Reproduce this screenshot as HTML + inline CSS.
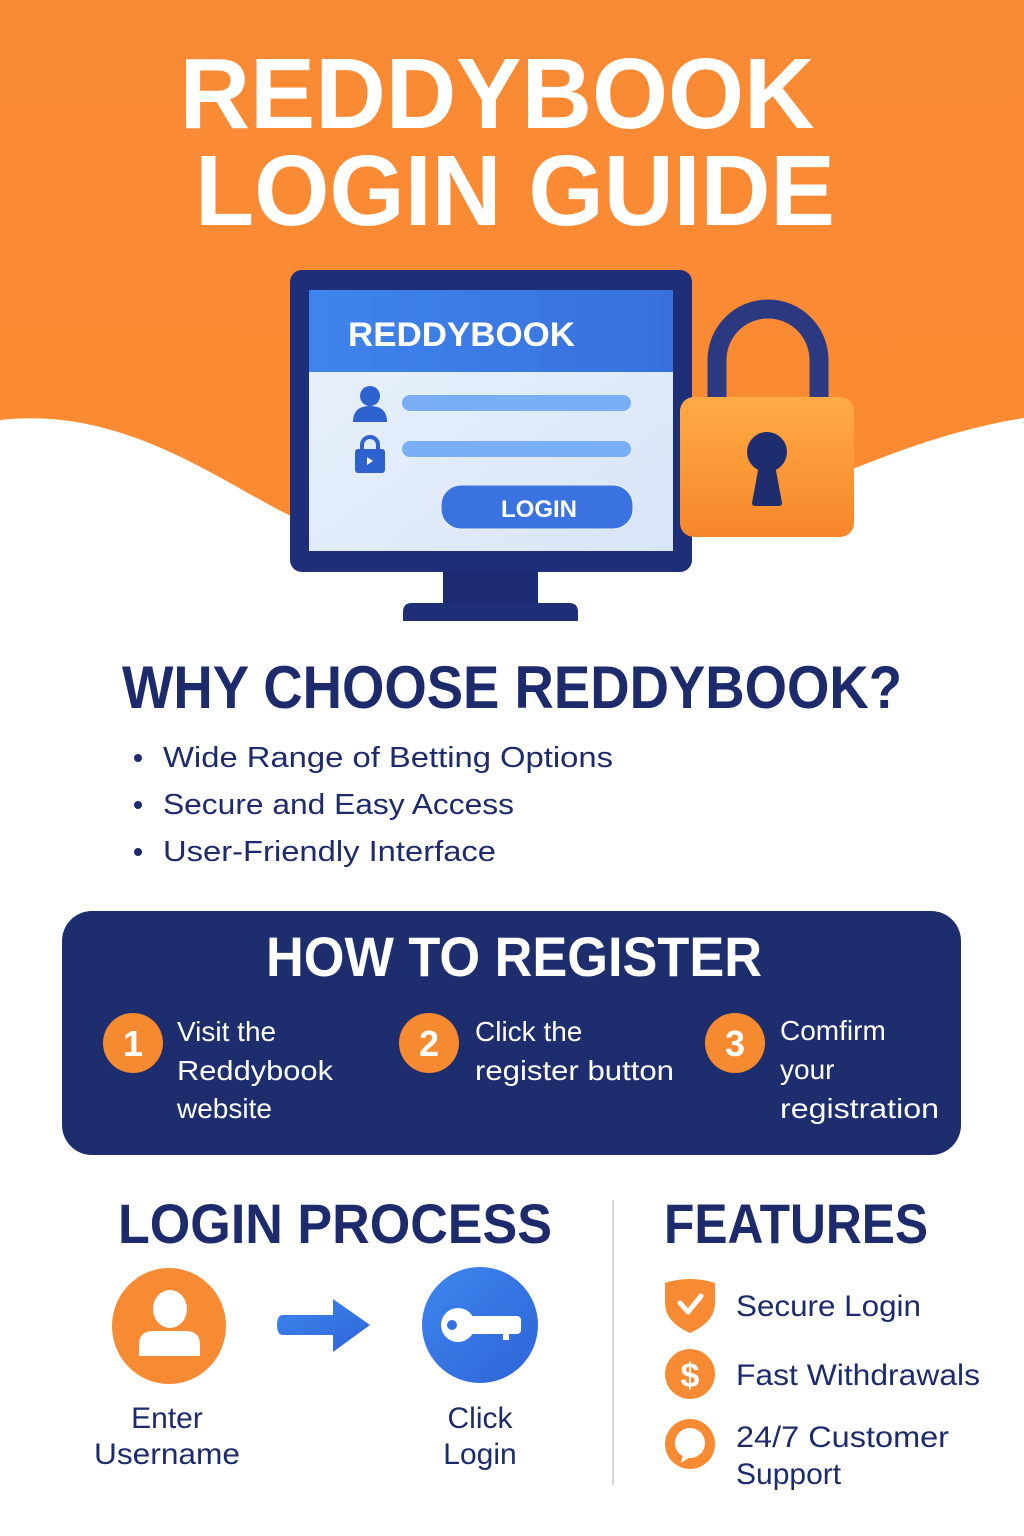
<!DOCTYPE html>
<html><head><meta charset="utf-8"><style>
html,body{margin:0;padding:0;background:#fff;}
svg{display:block;}
text{font-family:"Liberation Sans",Arial,sans-serif;}
</style></head><body>
<svg width="1024" height="1536" viewBox="0 0 1024 1536" xmlns="http://www.w3.org/2000/svg">
<defs>
<linearGradient id="og" x1="0" y1="0" x2="0" y2="1"><stop offset="0" stop-color="#f98a35"/><stop offset="1" stop-color="#fb8b32"/></linearGradient>
<linearGradient id="lk" x1="0" y1="0" x2="0" y2="1"><stop offset="0" stop-color="#ffab45"/><stop offset="1" stop-color="#f7862a"/></linearGradient>
<linearGradient id="hd" x1="0" y1="0" x2="1" y2="0"><stop offset="0" stop-color="#3f84ec"/><stop offset="1" stop-color="#3770dc"/></linearGradient>
<linearGradient id="sc" x1="0" y1="0" x2="1" y2="1"><stop offset="0" stop-color="#eaf1fc"/><stop offset="1" stop-color="#d8e5f7"/></linearGradient>
<linearGradient id="bc" x1="0" y1="0" x2="1" y2="1"><stop offset="0" stop-color="#3d86f0"/><stop offset="1" stop-color="#2f64d6"/></linearGradient>
</defs>
<path d="M0 0 H1024 V418 C960 428 900 450 850 470 L300 520 C230 490 130 405 0 420 Z" fill="url(#og)"/>
<text x="497" y="128" text-anchor="middle" font-size="100" font-weight="700" fill="#fff" textLength="635" lengthAdjust="spacingAndGlyphs">REDDYBOOK</text>
<text x="515" y="225" text-anchor="middle" font-size="100" font-weight="700" fill="#fff" textLength="640" lengthAdjust="spacingAndGlyphs">LOGIN GUIDE</text>

<!-- monitor -->
<rect x="443" y="568" width="95" height="38" fill="#1c2b72"/>
<path d="M403 621 V612 Q403 603 412 603 H569 Q578 603 578 612 V621 Z" fill="#1e2e78"/>
<rect x="290" y="270" width="402" height="302" rx="12" fill="#1e2e78"/>
<rect x="309" y="290" width="364" height="261" fill="url(#sc)"/>
<rect x="309" y="290" width="364" height="82" fill="url(#hd)"/>
<text x="348" y="346" font-size="34" font-weight="700" fill="#fff" textLength="227" lengthAdjust="spacingAndGlyphs">REDDYBOOK</text>
<circle cx="370" cy="396" r="10" fill="#2d62cf"/>
<path d="M353 422 Q353 406 370 406 Q387 406 387 422 Z" fill="#2d62cf"/>
<rect x="402" y="395" width="229" height="16" rx="8" fill="#7aaef5"/>
<path d="M362 450 V445 A8 8 0 0 1 378 445 V450" fill="none" stroke="#2d62cf" stroke-width="4"/>
<rect x="355" y="449" width="30" height="24" rx="3" fill="#2d62cf"/>
<path d="M367 457 L373 461 L367 465 Z" fill="#fff"/>
<rect x="402" y="441" width="229" height="16" rx="8" fill="#7aaef5"/>
<rect x="441" y="485" width="192" height="44" rx="20" fill="#3a72e0" stroke="#eaf1fc" stroke-width="1"/>
<text x="539" y="517" text-anchor="middle" font-size="24" font-weight="700" fill="#fff">LOGIN</text>

<!-- padlock (in front) -->
<path d="M717 400 V360 A51 51 0 0 1 819 360 V400" fill="none" stroke="#2b3a80" stroke-width="19"/>
<rect x="680" y="397" width="174" height="140" rx="14" fill="url(#lk)"/>
<circle cx="767" cy="452" r="20" fill="#1e2d6e"/>
<path d="M759 465 L775 465 L782 503 Q782 506 778 506 L756 506 Q752 506 752 503 Z" fill="#1e2d6e"/>

<text x="512" y="708" text-anchor="middle" font-size="60" font-weight="700" fill="#1d2a6b" textLength="780" lengthAdjust="spacingAndGlyphs">WHY CHOOSE REDDYBOOK?</text>
<g font-size="29" fill="#1d2a6b">
<circle cx="138" cy="758" r="4" fill="#1d2a6b"/><text x="163" y="767" textLength="450" lengthAdjust="spacingAndGlyphs">Wide Range of Betting Options</text>
<circle cx="138" cy="805" r="4" fill="#1d2a6b"/><text x="163" y="814" textLength="351" lengthAdjust="spacingAndGlyphs">Secure and Easy Access</text>
<circle cx="138" cy="852" r="4" fill="#1d2a6b"/><text x="163" y="861" textLength="333" lengthAdjust="spacingAndGlyphs">User-Friendly Interface</text>
</g>

<rect x="62" y="911" width="899" height="244" rx="30" fill="#1e2d6e"/>
<text x="514" y="976" text-anchor="middle" font-size="56" font-weight="700" fill="#fff" textLength="496" lengthAdjust="spacingAndGlyphs">HOW TO REGISTER</text>
<g fill="#f58a30"><circle cx="133" cy="1043" r="30"/><circle cx="429" cy="1043" r="30"/><circle cx="735" cy="1043" r="30"/></g>
<g font-size="36" font-weight="700" fill="#fff" text-anchor="middle">
<text x="133" y="1056">1</text><text x="429" y="1056">2</text><text x="735" y="1056">3</text></g>
<g font-size="28" fill="#fff">
<text x="177" y="1041">Visit the</text><text x="177" y="1080" textLength="156" lengthAdjust="spacingAndGlyphs">Reddybook</text><text x="177" y="1118">website</text>
<text x="475" y="1041">Click the</text><text x="475" y="1080" textLength="199" lengthAdjust="spacingAndGlyphs">register button</text>
<text x="780" y="1040">Comfirm</text><text x="780" y="1079">your</text><text x="780" y="1118" textLength="159" lengthAdjust="spacingAndGlyphs">registration</text>
</g>

<text x="118" y="1243" font-size="56" font-weight="700" fill="#1d2a6b" textLength="434" lengthAdjust="spacingAndGlyphs">LOGIN PROCESS</text>
<text x="664" y="1243" font-size="56" font-weight="700" fill="#1d2a6b" textLength="264" lengthAdjust="spacingAndGlyphs">FEATURES</text>
<line x1="613" y1="1200" x2="613" y2="1485" stroke="#d8d8d8" stroke-width="2"/>
<ellipse cx="169" cy="1326" rx="57" ry="58" fill="#f78b33"/>
<ellipse cx="170" cy="1309" rx="17" ry="19" fill="#fff"/>
<path d="M139 1356 V1345 Q139 1331 153 1331 H186 Q200 1331 200 1345 V1356 Z" fill="#fff"/>
<path d="M283 1315 H333 V1299 L370 1325 L333 1352 V1335 H283 Q277 1335 277 1325 Q277 1315 283 1315 Z" fill="url(#bc)"/>
<circle cx="480" cy="1325" r="58" fill="url(#bc)"/>
<circle cx="458" cy="1325" r="17" fill="#fff"/>
<rect x="465" y="1316" width="56" height="18" rx="4" fill="#fff"/>
<rect x="503" y="1330" width="6" height="10" fill="#fff"/>
<circle cx="452" cy="1325" r="5" fill="#3070e0"/>
<g font-size="30" fill="#1d2a6b" text-anchor="middle">
<text x="167" y="1428">Enter</text><text x="167" y="1464" textLength="146" lengthAdjust="spacingAndGlyphs">Username</text>
<text x="480" y="1428">Click</text><text x="480" y="1464">Login</text>
</g>
<path d="M690 1279 Q703 1279 715 1283 V1303 Q715 1322 690 1333 Q665 1322 665 1303 V1283 Q677 1279 690 1279 Z" fill="#f78b33"/>
<path d="M680 1303 L688 1312 L701 1296" fill="none" stroke="#fff" stroke-width="5" stroke-linecap="round" stroke-linejoin="round"/>
<circle cx="690" cy="1374" r="25" fill="#f78b33"/>
<text x="690" y="1387" text-anchor="middle" font-size="34" font-weight="700" fill="#fff">$</text>
<circle cx="690" cy="1444" r="25" fill="#f78b33"/>
<ellipse cx="690" cy="1443" rx="15" ry="15" fill="#fff"/>
<path d="M683 1455 L681 1463 L690 1457 Z" fill="#fff"/>
<g font-size="30" fill="#1d2a6b">
<text x="736" y="1316" textLength="185" lengthAdjust="spacingAndGlyphs">Secure Login</text>
<text x="736" y="1385" textLength="244" lengthAdjust="spacingAndGlyphs">Fast Withdrawals</text>
<text x="736" y="1447" textLength="213" lengthAdjust="spacingAndGlyphs">24/7 Customer</text>
<text x="736" y="1484">Support</text>
</g>
</svg>
</body></html>
